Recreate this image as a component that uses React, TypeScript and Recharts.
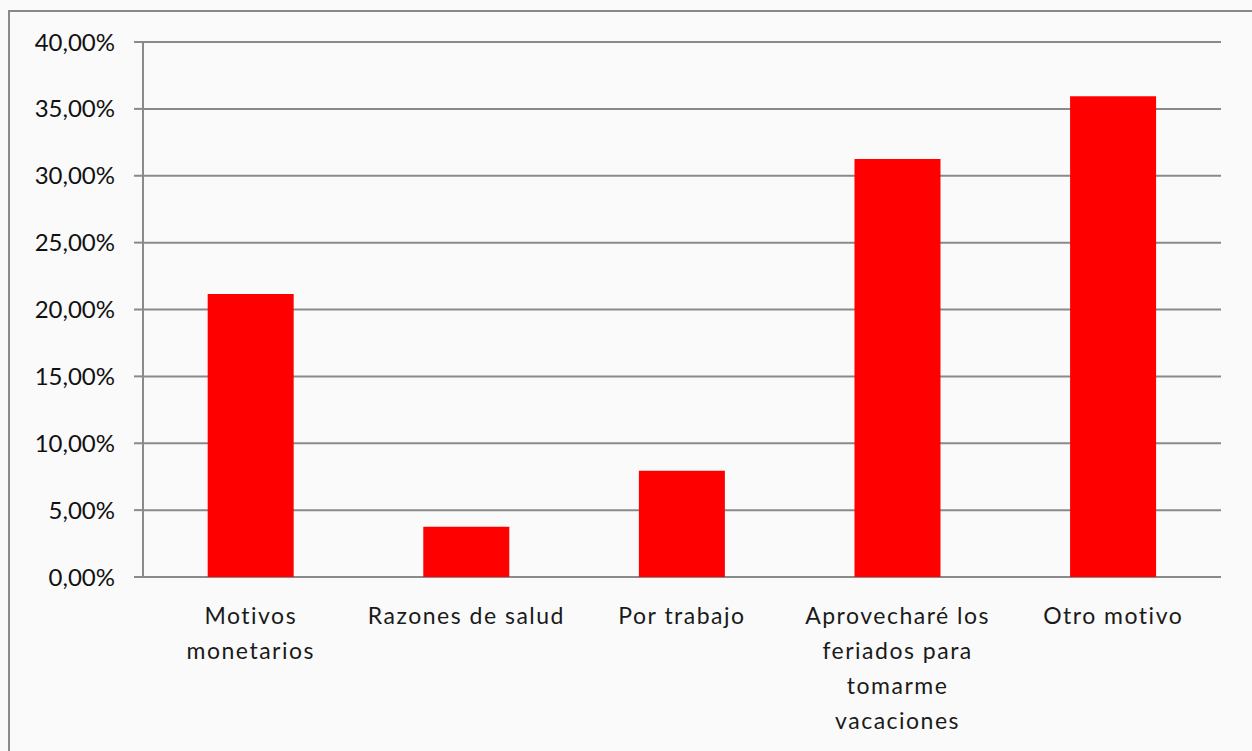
import React from "react";
import { BarChart, Bar, XAxis, YAxis, CartesianGrid } from "recharts";

const categories = [
  "Motivos monetarios",
  "Razones de salud",
  "Por trabajo",
  "Aprovecharé los feriados para tomarme vacaciones",
  "Otro motivo",
];
const categoryLines: string[][] = [
  ["Motivos", "monetarios"],
  ["Razones de salud"],
  ["Por trabajo"],
  ["Aprovecharé los", "feriados para", "tomarme", "vacaciones"],
  ["Otro motivo"],
];
const values = [0.2115, 0.0375, 0.0795, 0.3125, 0.3595];
const yTicks = [0, 0.05, 0.1, 0.15, 0.2, 0.25, 0.3, 0.35, 0.4];
const edgeTicks = [0, 1, 2, 3, 4, 5];

const data = categories.map((c, i) => ({ name: c, idx: i, value: values[i] }));

const FONT = "Lato, 'Open Sans', sans-serif";
const GRAY = "#8a8a8a";

const fmt = (v: number) => (v * 100).toFixed(2).replace(".", ",") + "%";

const CatTick = (props: any) => {
  const { x, y, index } = props;
  const lines = categoryLines[index] || [];
  return (
    <text
      x={x}
      y={y}
      textAnchor="middle"
      fill="#1a1a1a"
      fontSize={23}
      fontFamily={FONT}
      letterSpacing={1.5}
    >
      {lines.map((l, i) => (
        <tspan key={i} x={x} dy={i === 0 ? 47 : 35}>
          {l}
        </tspan>
      ))}
    </text>
  );
};

export default function App() {
  return (
    <div
      style={{
        position: "absolute",
        left: 0,
        top: 0,
        width: 1252,
        height: 751,
        background: "#fafafa",
        overflow: "hidden",
      }}
    >
      <div
        style={{
          position: "absolute",
          left: 8,
          top: 10,
          width: 1300,
          height: 800,
          borderLeft: `2px solid ${GRAY}`,
          borderTop: `2px solid ${GRAY}`,
        }}
      />
      <div style={{ position: "absolute", left: 0, top: 0 }}>
        <BarChart
          width={1252}
          height={751}
          data={data}
          margin={{ top: 42, right: 31, bottom: 0, left: 0 }}
          barCategoryGap="30%"
        >
          <CartesianGrid
            vertical={false}
            stroke={GRAY}
            strokeWidth={2}
            xAxisId="cat"
          />
          <XAxis
            xAxisId="edges"
            type="number"
            dataKey="idx"
            domain={[0, 5]}
            ticks={edgeTicks}
            height={0}
            axisLine={{ stroke: GRAY, strokeWidth: 2 }}
            tickLine={{ stroke: GRAY, strokeWidth: 2 }}
            tickSize={9}
            tickFormatter={() => ""}
            interval={0}
          />
          <XAxis
            xAxisId="cat"
            dataKey="name"
            height={174}
            axisLine={false}
            tickLine={false}
            tickSize={0}
            tickMargin={0}
            interval={0}
            tick={<CatTick />}
          />
          <YAxis
            width={143}
            domain={[0, 0.4]}
            ticks={yTicks}
            tickFormatter={fmt}
            axisLine={{ stroke: GRAY, strokeWidth: 2 }}
            tickLine={{ stroke: GRAY, strokeWidth: 2 }}
            tickSize={9}
            tickMargin={19}
            tick={{ fill: "#111", fontSize: 24, fontFamily: FONT }}
            interval={0}
          />
          <Bar
            xAxisId="cat"
            dataKey="value"
            fill="#ff0000"
            isAnimationActive={false}
          />
        </BarChart>
      </div>
    </div>
  );
}
